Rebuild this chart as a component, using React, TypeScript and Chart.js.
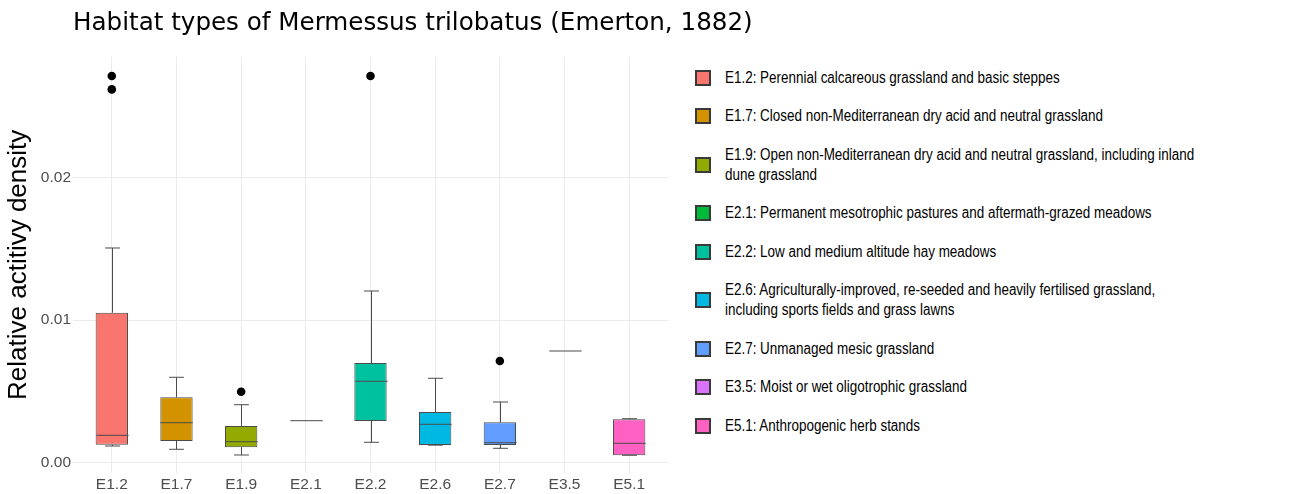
import React, { useEffect, useRef } from "react";
import { Chart, registerables } from "chart.js";

Chart.register(...registerables);

const titleText = "Habitat types of Mermessus trilobatus (Emerton, 1882)";
const yAxisTitle = "Relative actitivy density";

const categories = ["E1.2", "E1.7", "E1.9", "E2.1", "E2.2", "E2.6", "E2.7", "E3.5", "E5.1"];
const whiskerLow = [0.00119, 0.00096, 0.00056, 0.00296, 0.00145, 0.00125, 0.00103, 0.00784, 0.00054];
const q1 = [0.00128, 0.00154, 0.0011, 0.00296, 0.00294, 0.00126, 0.00126, 0.00784, 0.00054];
const median = [0.00194, 0.00282, 0.00149, 0.00296, 0.00572, 0.00271, 0.00142, 0.00784, 0.00138];
const q3 = [0.01052, 0.0046, 0.00259, 0.00296, 0.007, 0.00357, 0.00285, 0.00784, 0.00306];
const whiskerHigh = [0.01505, 0.006, 0.00408, 0.00296, 0.01204, 0.00593, 0.00427, 0.00784, 0.0031];

const outlierCategories = ["E1.2", "E1.2", "E1.9", "E2.2", "E2.7"];
const outlierValues = [0.02709, 0.02615, 0.00499, 0.02709, 0.00714];

const yTickValues = [0, 0.01, 0.02];

const fillColors = ["#F8766D", "#D39200", "#93AA00", "#00BA38", "#00C19F", "#00B9E3", "#619CFF", "#DB72FB", "#FF61C3"];

const legendLabels = [
  "E1.2: Perennial calcareous grassland and basic steppes",
  "E1.7: Closed non-Mediterranean dry acid and neutral grassland",
  "E1.9: Open non-Mediterranean dry acid and neutral grassland, including inland\ndune grassland",
  "E2.1: Permanent mesotrophic pastures and aftermath-grazed meadows",
  "E2.2: Low and medium altitude hay meadows",
  "E2.6: Agriculturally-improved, re-seeded and heavily fertilised grassland,\nincluding sports fields and grass lawns",
  "E2.7: Unmanaged mesic grassland",
  "E3.5: Moist or wet oligotrophic grassland",
  "E5.1: Anthropogenic herb stands",
];

const LINE_COLOR = "#4a4a4a";
const BOX_FRACTION = 0.5;
const CAP_FRACTION = 0.23;

const whiskerPlugin = {
  id: "boxWhiskers",
  afterDatasetsDraw(chart: any) {
    const xs = chart.scales.x;
    const ys = chart.scales.y;
    const ctx = chart.ctx;
    const step = xs.getPixelForValue(1) - xs.getPixelForValue(0);
    const boxHalf = (step * BOX_FRACTION) / 2;
    const capHalf = (step * CAP_FRACTION) / 2;
    ctx.save();
    ctx.strokeStyle = LINE_COLOR;
    ctx.lineWidth = 1;
    const hline = (x0: number, x1: number, y: number) => {
      ctx.beginPath();
      ctx.moveTo(x0, y);
      ctx.lineTo(x1, y);
      ctx.stroke();
    };
    const vline = (x: number, y0: number, y1: number) => {
      ctx.beginPath();
      ctx.moveTo(x, y0);
      ctx.lineTo(x, y1);
      ctx.stroke();
    };
    categories.forEach((_, i) => {
      const cx = Math.round(xs.getPixelForValue(i)) + 0.5;
      const yHigh = ys.getPixelForValue(whiskerHigh[i]);
      const yQ3 = ys.getPixelForValue(q3[i]);
      const yQ1 = ys.getPixelForValue(q1[i]);
      const yLow = ys.getPixelForValue(whiskerLow[i]);
      const yMed = ys.getPixelForValue(median[i]);
      if (whiskerHigh[i] > q3[i]) {
        vline(cx, yQ3, yHigh);
      }
      if (whiskerHigh[i] !== q1[i]) hline(cx - capHalf, cx + capHalf, yHigh);
      if (whiskerLow[i] < q1[i]) {
        vline(cx, yQ1, yLow);
      }
      if (whiskerLow[i] !== q3[i]) hline(cx - capHalf, cx + capHalf, yLow);
      hline(cx - boxHalf, cx + boxHalf, yMed);
    });
    ctx.restore();
  },
};

export default function App() {
  const canvasRef = useRef<HTMLCanvasElement | null>(null);

  useEffect(() => {
    const canvas = canvasRef.current;
    if (!canvas) return;
    const chart = new Chart(canvas, {
      type: "bar",
      data: {
        datasets: [
          {
            type: "bar",
            label: "box",
            data: categories.map((_, i) => ({ x: i, y: [q1[i], q3[i]] })) as any,
            backgroundColor: fillColors,
            borderColor: LINE_COLOR,
            borderWidth: 1,
            borderSkipped: false,
            barPercentage: BOX_FRACTION,
            categoryPercentage: 1,
          } as any,
          {
            type: "scatter",
            label: "outliers",
            data: outlierCategories.map((c, i) => ({ x: categories.indexOf(c), y: outlierValues[i] })),
            backgroundColor: "#000000",
            borderColor: "#000000",
            pointRadius: 4.3,
            borderWidth: 0,
          } as any,
        ],
      },
      options: {
        responsive: false,
        animation: false,
        layout: { padding: { left: 0, right: 12, top: 56.7, bottom: 0 } },
        plugins: {
          legend: { display: false },
          tooltip: { enabled: false },
          title: { display: false },
        },
        scales: {
          x: {
            type: "linear",
            offset: false,
            min: -0.6,
            max: categories.length - 0.4,
            afterBuildTicks: (axis: any) => {
              axis.ticks = categories.map((_, i) => ({ value: i }));
            },
            afterFit: (axis: any) => {
              axis.height = 21;
            },
            ticks: {
              autoSkip: false,
              maxRotation: 0,
              padding: 2,
              color: "#4d4d4d",
              font: { family: "'Liberation Sans', Arial, sans-serif", size: 15.5 },
              callback: (v: any) => categories[v] ?? "",
            },
            grid: { color: "#ebebeb", lineWidth: 1, drawTicks: false, offset: false },
            border: { display: false },
          },
          y: {
            type: "linear",
            min: -0.0007,
            max: 0.02844,
            afterBuildTicks: (axis: any) => {
              axis.ticks = yTickValues.map((v) => ({ value: v }));
            },
            afterFit: (axis: any) => {
              axis.width = 73;
            },
            ticks: {
              padding: 2,
              color: "#4d4d4d",
              font: { family: "'Liberation Sans', Arial, sans-serif", size: 15.5 },
              callback: (v: any) => Number(v).toFixed(2),
            },
            grid: { color: "#ebebeb", lineWidth: 1, drawTicks: false },
            border: { display: false },
            title: {
              display: true,
              text: yAxisTitle,
              color: "#000000",
              font: { family: "'Liberation Sans', Arial, sans-serif", size: 26 },
              padding: { top: 3, bottom: 4 },
            },
          },
        },
      } as any,
      plugins: [whiskerPlugin],
    });
    return () => chart.destroy();
  }, []);

  return (
    <div style={{ position: "fixed", left: 0, top: 0, width: 1301, height: 494, background: "#ffffff" }}>
      <canvas ref={canvasRef} width={680} height={494} style={{ position: "absolute", left: 0, top: 0, width: 680, height: 494 }} />
      <div
        style={{
          position: "absolute",
          left: 73,
          top: 6.5,
          fontFamily: "'DejaVu Sans', Verdana, sans-serif",
          fontSize: 24.6,
          lineHeight: "30px",
          color: "#000000",
          whiteSpace: "nowrap",
        }}
      >
        {titleText}
      </div>
      <div
        style={{
          position: "absolute",
          left: 695,
          top: 58.45,
          fontFamily: "'Liberation Sans', Arial, sans-serif",
          fontSize: 16,
          color: "#000000",
        }}
      >
        {legendLabels.map((label, i) => (
          <div key={label} style={{ display: "flex", alignItems: "center", padding: "9.25px 0", lineHeight: "20px" }}>
            <div
              style={{
                width: 16,
                height: 16,
                boxSizing: "border-box",
                border: "2px solid #3a3a3a",
                background: fillColors[i],
                marginRight: 14,
                flex: "none",
              }}
            />
            <div
              style={{
                whiteSpace: "pre",
                display: "inline-block",
                transform: "scaleX(0.84)",
                transformOrigin: "left center",
              }}
            >
              {label}
            </div>
          </div>
        ))}
      </div>
    </div>
  );
}
